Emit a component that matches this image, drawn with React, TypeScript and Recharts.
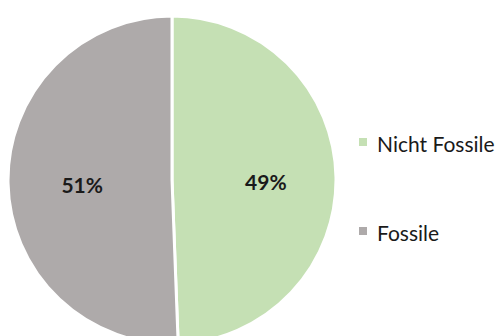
import { Legend, Pie, PieChart, Cell } from "recharts";

const categories = ["Nicht Fossile", "Fossile"];
const shares = [49.4, 50.6];
const shareLabels = ["49%", "51%"];
const colors = ["#C5E0B4", "#AEAAAA"];

const RAD = Math.PI / 180;

function SliceLabel(props: any) {
  const { cx, cy, midAngle, outerRadius, index } = props;
  const r = outerRadius * 0.56;
  const x = cx + r * Math.cos(-midAngle * RAD);
  const y = cy + r * Math.sin(-midAngle * RAD);
  return (
    <text
      x={x + 2}
      y={y + 3}
      textAnchor="middle"
      dominantBaseline="central"
      fill="#1a1a1a"
      fontFamily="Lato, 'Open Sans', sans-serif"
      fontWeight={700}
      fontSize={21}
    >
      {shareLabels[index]}
    </text>
  );
}

function LegendBox() {
  return (
    <div style={{ fontFamily: "Lato, 'Open Sans', sans-serif", fontSize: 21, color: "#1a1a1a" }}>
      {categories.map((c, i) => (
        <div
          key={c}
          style={{ display: "flex", alignItems: "center", height: 24, marginBottom: i === 0 ? 65 : 0 }}
        >
          <span
            style={{
              width: 8,
              height: 8,
              background: colors[i],
              marginRight: 10,
              marginTop: -3,
              display: "inline-block",
            }}
          />
          <span>{c}</span>
        </div>
      ))}
    </div>
  );
}

export default function App() {
  const chartData = categories.map((name, i) => ({ name, value: shares[i] }));

  return (
    <div style={{ position: "absolute", left: 0, top: 0, width: 499, height: 336, background: "#fff" }}>
      <PieChart width={499} height={336} margin={{ top: 0, right: 0, bottom: 0, left: 0 }}>
        <Pie
          data={chartData}
          dataKey="value"
          nameKey="name"
          cx={172}
          cy={180}
          outerRadius={164}
          startAngle={90}
          endAngle={-270}
          stroke="#ffffff"
          strokeWidth={3}
          label={SliceLabel}
          labelLine={false}
          isAnimationActive={false}
        >
          {chartData.map((d, i) => (
            <Cell key={d.name} fill={colors[i]} />
          ))}
        </Pie>
        <Legend
          content={<LegendBox />}
          wrapperStyle={{ left: 359, top: 131, width: 140 }}
        />
      </PieChart>
    </div>
  );
}
